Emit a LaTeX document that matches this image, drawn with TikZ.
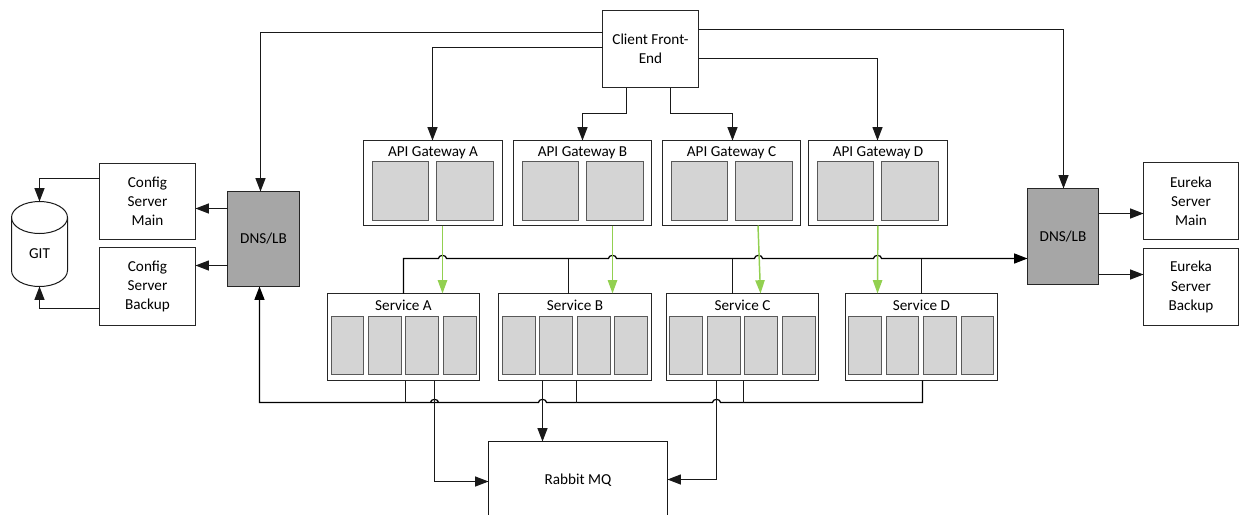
\documentclass[tikz,border=0pt]{standalone}
\usepackage{fontspec}
\setmainfont{Carlito}
\usetikzlibrary{arrows.meta}
\definecolor{dnsgray}{HTML}{A6A6A6}
\definecolor{slotgray}{HTML}{D4D4D4}
\definecolor{greenline}{HTML}{92D050}
\newcommand{\lbl}{\fontsize{11.4}{14.3}\selectfont}
\tikzset{
  tip/.style={-{Triangle[length=10pt,width=7.5pt]}},
  wire/.style={draw=black!90,line width=0.75pt,tip},
  plainwire/.style={draw=black!90,line width=0.75pt},
  busline/.style={draw=black,line width=0.9pt},
  greenwire/.style={draw=greenline,line width=1.1pt,-{Triangle[length=10pt,width=7pt]}},
  box/.style={draw=black!85,line width=0.75pt,fill=white,inner sep=0pt,outer sep=0pt,align=center,font=\lbl},
  dns/.style={box,fill=dnsgray},
  slot/.style={box,fill=slotgray,draw=black!65,line width=0.9pt},
}
% name, x1, y1, x2, y2, style, text (reference pixel coordinates)
\newcommand{\bx}[7]{\node[#6,anchor=north west,minimum width={(#4-#2)*0.75pt},minimum height={(#5-#3)*0.75pt}] (#1) at (#2,#3) {#7};}
% titled container
\newcommand{\tbx}[7]{\bx{#1}{#2}{#3}{#4}{#5}{#6}{}\node[font=\lbl,inner sep=0pt] (#1t) at ({(#2+#4)/2},#3+12) {#7};}
% line jump on horizontal run at x,y
\newcommand{\jmp}[2]{-- (#1-4,#2) arc[start angle=180,end angle=0,x radius=3pt,y radius=2.4pt]}
\begin{document}
\begin{tikzpicture}[x=0.75pt,y=-0.75pt,shift={(0.5,0.5)}]
\useasboundingbox (-0.5,-0.5) rectangle (1238.5,514.5);
% top node
\bx{client}{602}{10}{698}{87}{box}{Client Front-\\End}
% gateways
\tbx{gwA}{363}{140}{502}{225}{box}{API Gateway A}
\tbx{gwB}{513}{140}{651}{225}{box}{API Gateway B}
\tbx{gwC}{662}{140}{800}{225}{box}{API Gateway C}
\tbx{gwD}{808}{140}{947}{225}{box}{API Gateway D}
\bx{gA1}{372}{161}{428}{220}{slot}{} \bx{gA2}{436}{161}{493}{220}{slot}{}
\bx{gB1}{522}{161}{578}{220}{slot}{} \bx{gB2}{586}{161}{643}{220}{slot}{}
\bx{gC1}{671}{161}{727}{220}{slot}{} \bx{gC2}{735}{161}{792}{220}{slot}{}
\bx{gD1}{817}{161}{873}{220}{slot}{} \bx{gD2}{881}{161}{938}{220}{slot}{}
% services
\tbx{svA}{327}{293}{479}{380}{box}{Service A}
\tbx{svB}{498}{293}{651}{380}{box}{Service B}
\tbx{svC}{666}{293}{818}{380}{box}{Service C}
\tbx{svD}{845}{293}{997}{380}{box}{Service D}
\bx{sA1}{331}{316}{363}{374}{slot}{} \bx{sA2}{368}{316}{401}{374}{slot}{} \bx{sA3}{405}{316}{438}{374}{slot}{} \bx{sA4}{443}{316}{476}{374}{slot}{}
\bx{sB1}{502}{316}{535}{374}{slot}{} \bx{sB2}{539}{316}{572}{374}{slot}{} \bx{sB3}{577}{316}{610}{374}{slot}{} \bx{sB4}{614}{316}{647}{374}{slot}{}
\bx{sC1}{669}{316}{702}{374}{slot}{} \bx{sC2}{707}{316}{740}{374}{slot}{} \bx{sC3}{744}{316}{777}{374}{slot}{} \bx{sC4}{782}{316}{815}{374}{slot}{}
\bx{sD1}{848}{316}{881}{374}{slot}{} \bx{sD2}{886}{316}{918}{374}{slot}{} \bx{sD3}{923}{316}{956}{374}{slot}{} \bx{sD4}{961}{316}{993}{374}{slot}{}
% left and right groups
\bx{cfgM}{99}{163}{195}{239}{box}{Config\\Server\\Main}
\bx{cfgB}{99}{247}{195}{325}{box}{Config\\Server\\Backup}
\bx{dnsL}{227}{191}{299}{286}{dns}{DNS/LB}
\bx{dnsR}{1027}{188}{1098}{284}{dns}{DNS/LB}
\bx{eurM}{1143}{162}{1238}{239}{box}{Eureka\\Server\\Main}
\bx{eurB}{1143}{248}{1238}{325}{box}{Eureka\\Server\\Backup}
% git cylinder
\draw[plainwire,fill=white] (11,217) arc[start angle=180,end angle=0,x radius=21pt,y radius=12pt] -- (67,270) arc[start angle=0,end angle=-180,x radius=21pt,y radius=12pt] -- cycle;
\draw[plainwire] (11,217) arc[start angle=180,end angle=360,x radius=21pt,y radius=12pt];
\node[inner sep=0pt,outer sep=0pt,minimum width=42pt,minimum height=63.75pt] (git) at (39,243.5) {};
\node[inner sep=0pt,font=\lbl] (gitt) at (39,253) {GIT};
% rabbit (box runs past the bottom of the picture)
\draw[plainwire] (488,514) -- (488,441) -- (667,441) -- (667,514);
\node[inner sep=0pt,font=\lbl] (rabbit) at (577.5,480) {Rabbit MQ};
\coordinate (rabbitN) at (542,441);
\coordinate (rabbitW) at (488,481);
\coordinate (rabbitE) at (667,479);
% client connectors
\draw[wire] (client.west |- 0,32) -- (260,32) -- (260,0 |- dnsL.north);
\draw[wire] (client.west |- 0,47) -- (432,47) -- (432,0 |- gwA.north);
\draw[wire] (626,0 |- client.south) -- (626,113) -- (582,113) -- (582,0 |- gwB.north);
\draw[wire] (670,0 |- client.south) -- (670,113) -- (732,113) -- (732,0 |- gwC.north);
\draw[wire] (client.east |- 0,58) -- (877,58) -- (877,0 |- gwD.north);
\draw[wire] (client.east |- 0,29) -- (1063,29) -- (1063,0 |- dnsR.north);
% side connectors
\draw[wire] (dnsL.west |- 0,208) -- (cfgM.east |- 0,208);
\draw[wire] (dnsL.west |- 0,265) -- (cfgB.east |- 0,265);
\draw[wire] (cfgM.west |- 0,178) -- (39,178) -- (git.north);
\draw[wire] (cfgB.west |- 0,308) -- (39,308) -- (git.south);
\draw[wire] (dnsR.east |- 0,213) -- (eurM.west |- 0,213);
\draw[wire] (dnsR.east |- 0,274) -- (eurB.west |- 0,274);
% upper bus
\coordinate (busR) at (dnsR.west |- 0,258);
\draw[busline,tip] (svA.north) -- (403,258) \jmp{442}{258} \jmp{612}{258} \jmp{758}{258} \jmp{877}{258} -- (busR);
\draw[plainwire] (568,258) -- (568,0 |- svB.north);
\draw[plainwire] (732,258) -- (732,0 |- svC.north);
\draw[plainwire] (921,258) -- (921,0 |- svD.north);
% green links
\draw[greenwire] (442,0 |- gwA.south) -- (442,0 |- svA.north);
\draw[greenwire] (612,0 |- gwB.south) -- (612,0 |- svB.north);
\draw[greenwire] (757.5,0 |- gwC.south) -- (760,0 |- svC.north);
\draw[greenwire] (877.4,0 |- gwD.south) -- (877,0 |- svD.north);
% lower bus
\draw[busline,tip] (922,0 |- svD.south) -- (922,402) -- (743,402) -- (720,402) arc[start angle=0,end angle=180,x radius=3pt,y radius=2.4pt] -- (576,402) -- (546,402) arc[start angle=0,end angle=180,x radius=3pt,y radius=2.4pt] -- (405,402) -- (438,402) arc[start angle=0,end angle=180,x radius=3pt,y radius=2.4pt] -- (259,402) -- (259,0 |- dnsL.south);
\draw[plainwire] (405,0 |- svA.south) -- (405,402);
\draw[plainwire] (576,0 |- svB.south) -- (576,402);
\draw[plainwire] (743,0 |- svC.south) -- (743,402);
% rabbit connectors
\draw[wire] (434,0 |- svA.south) -- (434,481) -- (rabbitW);
\draw[wire] (542,0 |- svB.south) -- (rabbitN);
\draw[wire] (716,0 |- svC.south) -- (716,479) -- (rabbitE);
\end{tikzpicture}
\end{document}
